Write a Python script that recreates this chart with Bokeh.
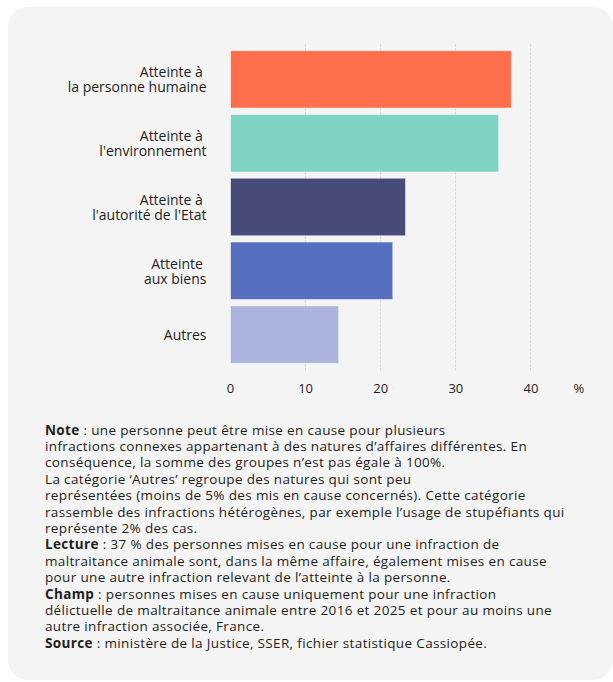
from bokeh.plotting import figure
from bokeh.models import FactorRange, Range1d, Div, ColumnDataSource
from bokeh.layouts import column
from bokeh.embed import file_html
from bokeh.resources import INLINE

# ---- data ----
categories = [
    "Atteinte à \nla personne humaine",
    "Atteinte à \nl'environnement",
    "Atteinte à \nl'autorité de l'Etat",
    "Atteinte \naux biens",
    "Autres",
]
values = [37.4, 35.7, 23.3, 21.6, 14.4]
colors = ["#FF6F4C", "#7FD3C2", "#484A7A", "#5670BF", "#ABB4DE"]
x_ticks = [0, 10, 20, 30, 40]
unit_label = "%"
unit_pos = 46.4

note_html = (
    "<b>Note</b> : une personne peut être mise en cause pour plusieurs<br>"
    "infractions connexes appartenant à des natures d’affaires différentes. En<br>"
    "conséquence, la somme des groupes n’est pas égale à 100%.<br>"
    "La catégorie ‘Autres’ regroupe des natures qui sont peu<br>"
    "représentées (moins de 5% des mis en cause concernés). Cette catégorie<br>"
    "rassemble des infractions hétérogènes, par exemple l’usage de stupéfiants qui<br>"
    "représente 2% des cas.<br>"
    "<b>Lecture</b> : 37 % des personnes mises en cause pour une infraction de<br>"
    "maltraitance animale sont, dans la même affaire, également mises en cause<br>"
    "pour une autre infraction relevant de l’atteinte à la personne.<br>"
    "<b>Champ</b> : personnes mises en cause uniquement pour une infraction<br>"
    "délictuelle de maltraitance animale entre 2016 et 2025 et pour au moins une<br>"
    "autre infraction associée, France.<br>"
    "<b>Source</b> : ministère de la Justice, SSER, fichier statistique Cassiopée."
)

FONT = "Open Sans"
TEXT = "#1e1e1e"
BG = "#f4f4f4"

src = ColumnDataSource(dict(cat=categories, val=values, color=colors))

y_range = FactorRange(factors=categories[::-1], range_padding=0.0625,
                      range_padding_units="absolute")

p = figure(width=605, height=400, y_range=y_range, x_range=Range1d(0, 47),
           output_backend="svg", toolbar_location=None,
           min_border_left=222, min_border_right=30,
           min_border_top=36, min_border_bottom=37,
           background_fill_color=None, border_fill_color=None,
           outline_line_color=None)

p.hbar(y="cat", left=0, right="val", height=0.9, fill_color="color",
       line_color="white", line_alpha=0.45, line_width=1, source=src)

p.xaxis.ticker = x_ticks + [unit_pos]
p.xaxis.major_label_overrides = {unit_pos: unit_label}
p.xgrid.ticker = x_ticks
p.xgrid.grid_line_color = "#cfcfcf"
p.xgrid.grid_line_dash = "2 2"
p.ygrid.grid_line_color = None

for ax in (p.xaxis[0], p.yaxis[0]):
    ax.axis_line_color = None
    ax.major_tick_line_color = None
    ax.minor_tick_line_color = None
    ax.major_tick_out = 0
    ax.major_tick_in = 0
    ax.major_label_text_font = FONT
    ax.major_label_text_color = TEXT

p.xaxis.major_label_text_font_size = "13px"
p.xaxis.major_label_standoff = 8
p.yaxis.major_label_text_font_size = "14px"
p.yaxis.major_label_text_line_height = 0.8
p.yaxis.major_label_standoff = 24

div = Div(
    text=(f'<div style="font-family:\'{FONT}\';font-size:13.5px;letter-spacing:0.35px;'
          f'line-height:16.4px;color:{TEXT};padding:9.5px 0 0 32px;'
          f'white-space:nowrap">{note_html}</div>'),
    width=605, height=273,
)

layout = column(p, div, width=605, height=673, margin=(7, 0, 0, 8),
                styles={"background-color": BG, "border-radius": "20px"})

open("out.html", "w").write(file_html(layout, INLINE))
